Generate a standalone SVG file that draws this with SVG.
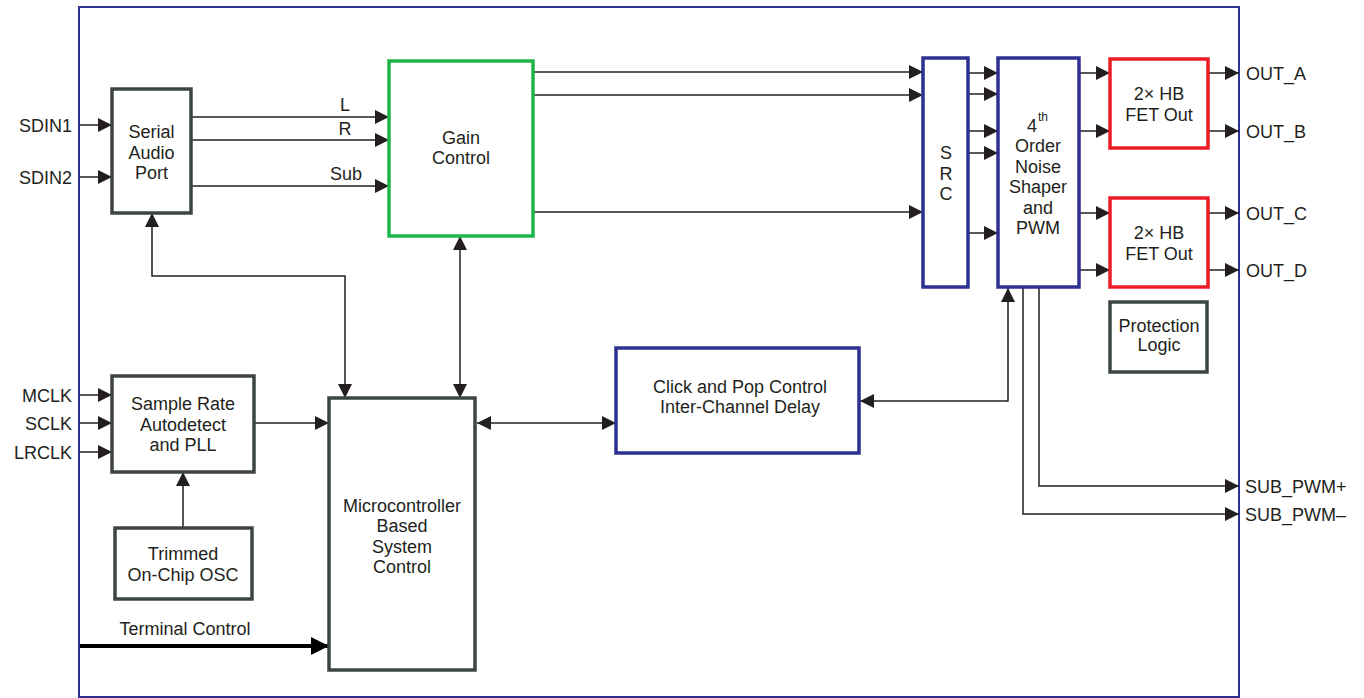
<svg xmlns="http://www.w3.org/2000/svg" width="1364" height="698" viewBox="0 0 1364 698">
<style>
text{font-family:"Liberation Sans",Arial,sans-serif;font-size:18px;fill:#231f20}
.c{text-anchor:middle}
.r{text-anchor:end}
.gray{fill:#fff;stroke:#3c4543;stroke-width:3.5}
.blue{fill:#fff;stroke:#2e3192;stroke-width:3.5}
.red{fill:#fff;stroke:#ed1c24;stroke-width:3.5}
.green{fill:#fff;stroke:#1db54a;stroke-width:3.5}
.w{fill:none;stroke:#231f20;stroke-width:1.5}
.a{marker-end:url(#ah)}
.b{marker-start:url(#ah);marker-end:url(#ah)}
</style>
<defs>
<marker id="ah" viewBox="0 0 10 10" refX="10" refY="5" markerUnits="userSpaceOnUse" markerWidth="14" markerHeight="14" orient="auto-start-reverse"><path d="M0,0 L10,5 L0,10 z" fill="#231f20"/></marker>
<marker id="ahb" viewBox="0 0 10 10" refX="10" refY="5" markerUnits="userSpaceOnUse" markerWidth="18" markerHeight="20" orient="auto"><path d="M0,0 L10,5 L0,10 z" fill="#000"/></marker>
</defs>
<rect id="frame" x="79" y="7" width="1160" height="690" fill="#fff" stroke="#2e3192" stroke-width="2"/>
<g id="connectors">
<line class="w a" x1="80" y1="125" x2="112" y2="125"/>
<line class="w a" x1="80" y1="177" x2="112" y2="177"/>
<line class="w a" x1="191" y1="117" x2="389" y2="117"/>
<line class="w a" x1="191" y1="140" x2="389" y2="140"/>
<line class="w a" x1="191" y1="186" x2="389" y2="186"/>
<polyline class="w b" points="152,213 152,276 345,276 345,398"/>
<line class="w b" x1="460" y1="236" x2="460" y2="398"/>
<line class="w a" x1="80" y1="395" x2="112" y2="395"/>
<line class="w a" x1="80" y1="423" x2="112" y2="423"/>
<line class="w a" x1="80" y1="452" x2="112" y2="452"/>
<line class="w a" x1="183" y1="528" x2="183" y2="472"/>
<line class="w a" x1="254" y1="423" x2="329" y2="423"/>
<line x1="80" y1="646" x2="329" y2="646" stroke="#000" stroke-width="4" marker-end="url(#ahb)"/>
<line class="w b" x1="477" y1="423" x2="616" y2="423"/>
<polyline class="w b" points="1008,288 1008,401 860,401"/>
<line class="w a" x1="533" y1="72" x2="923" y2="72"/>
<line class="w a" x1="533" y1="95" x2="923" y2="95"/>
<line class="w a" x1="533" y1="212" x2="923" y2="212"/>
<line class="w a" x1="968" y1="73" x2="998" y2="73"/>
<line class="w a" x1="968" y1="94" x2="998" y2="94"/>
<line class="w a" x1="968" y1="131" x2="998" y2="131"/>
<line class="w a" x1="968" y1="153" x2="998" y2="153"/>
<line class="w a" x1="968" y1="233" x2="998" y2="233"/>
<line class="w a" x1="1079" y1="73" x2="1110" y2="73"/>
<line class="w a" x1="1079" y1="131" x2="1110" y2="131"/>
<line class="w a" x1="1079" y1="213" x2="1110" y2="213"/>
<line class="w a" x1="1079" y1="270" x2="1110" y2="270"/>
<line class="w a" x1="1208" y1="73" x2="1239" y2="73"/>
<line class="w a" x1="1208" y1="131" x2="1239" y2="131"/>
<line class="w a" x1="1208" y1="213" x2="1239" y2="213"/>
<line class="w a" x1="1208" y1="270" x2="1239" y2="270"/>
<polyline class="w a" points="1039,287 1039,486 1239,486"/>
<polyline class="w a" points="1023,287 1023,514 1239,514"/>
</g>
<g id="labels">
<text class="r" x="72" y="131.5">SDIN1</text>
<text class="r" x="72" y="183.5">SDIN2</text>
<text class="c" x="345" y="111">L</text>
<text class="c" x="345" y="135">R</text>
<text class="c" x="346" y="180">Sub</text>
<text class="r" x="72" y="401.5">MCLK</text>
<text class="r" x="72" y="429.5">SCLK</text>
<text class="r" x="72" y="458.5">LRCLK</text>
<text class="c" x="185" y="635">Terminal Control</text>
<text x="1246" y="79.5">OUT_A</text>
<text x="1246" y="137.5">OUT_B</text>
<text x="1246" y="219.5">OUT_C</text>
<text x="1246" y="276.5">OUT_D</text>
<text x="1245" y="492.5">SUB_PWM+</text>
<text x="1245" y="520.5">SUB_PWM–</text>
</g>
<g id="serial-audio-port">
<rect class="gray" x="112" y="89" width="79" height="124"/>
<text class="c" x="151.5" y="138">Serial</text>
<text class="c" x="151.5" y="158.5">Audio</text>
<text class="c" x="151.5" y="179">Port</text>
</g>
<g id="gain-control">
<rect class="green" x="389" y="61" width="144" height="175"/>
<text class="c" x="461" y="144">Gain</text>
<text class="c" x="461" y="164">Control</text>
</g>
<g id="sample-rate">
<rect class="gray" x="112" y="376" width="142" height="96"/>
<text class="c" x="183" y="410">Sample Rate</text>
<text class="c" x="183" y="430.5">Autodetect</text>
<text class="c" x="183" y="451">and PLL</text>
</g>
<g id="osc">
<rect class="gray" x="115" y="528" width="137" height="71"/>
<text class="c" x="183" y="560">Trimmed</text>
<text class="c" x="183" y="581">On-Chip OSC</text>
</g>
<g id="mcu">
<rect class="gray" x="329" y="398" width="146" height="272"/>
<text class="c" x="402" y="512">Microcontroller</text>
<text class="c" x="402" y="532">Based</text>
<text class="c" x="402" y="552.5">System</text>
<text class="c" x="402" y="573">Control</text>
</g>
<g id="click-pop">
<rect class="blue" x="616" y="348" width="243" height="105"/>
<text class="c" x="740" y="393">Click and Pop Control</text>
<text class="c" x="740" y="413">Inter-Channel Delay</text>
</g>
<g id="src">
<rect class="blue" x="923" y="58" width="45" height="229"/>
<text class="c" x="946" y="159">S</text>
<text class="c" x="946" y="179.5">R</text>
<text class="c" x="946" y="200">C</text>
</g>
<g id="pwm">
<rect class="blue" x="998" y="58" width="81" height="229"/>
<text x="1027" y="131.5">4</text>
<text x="1038" y="121" style="font-size:12px">th</text>
<text class="c" x="1038" y="152">Order</text>
<text class="c" x="1038" y="172.5">Noise</text>
<text class="c" x="1038" y="193">Shaper</text>
<text class="c" x="1038" y="213.5">and</text>
<text class="c" x="1038" y="234">PWM</text>
</g>
<g id="fet-ab">
<rect class="red" x="1110" y="59" width="98" height="89"/>
<text class="c" x="1159" y="100">2× HB</text>
<text class="c" x="1159" y="121">FET Out</text>
</g>
<g id="fet-cd">
<rect class="red" x="1110" y="198" width="98" height="89"/>
<text class="c" x="1159" y="239">2× HB</text>
<text class="c" x="1159" y="259.5">FET Out</text>
</g>
<g id="protection">
<rect class="gray" x="1110" y="302" width="97" height="70"/>
<text class="c" x="1159" y="332">Protection</text>
<text class="c" x="1159" y="351">Logic</text>
</g>
</svg>
